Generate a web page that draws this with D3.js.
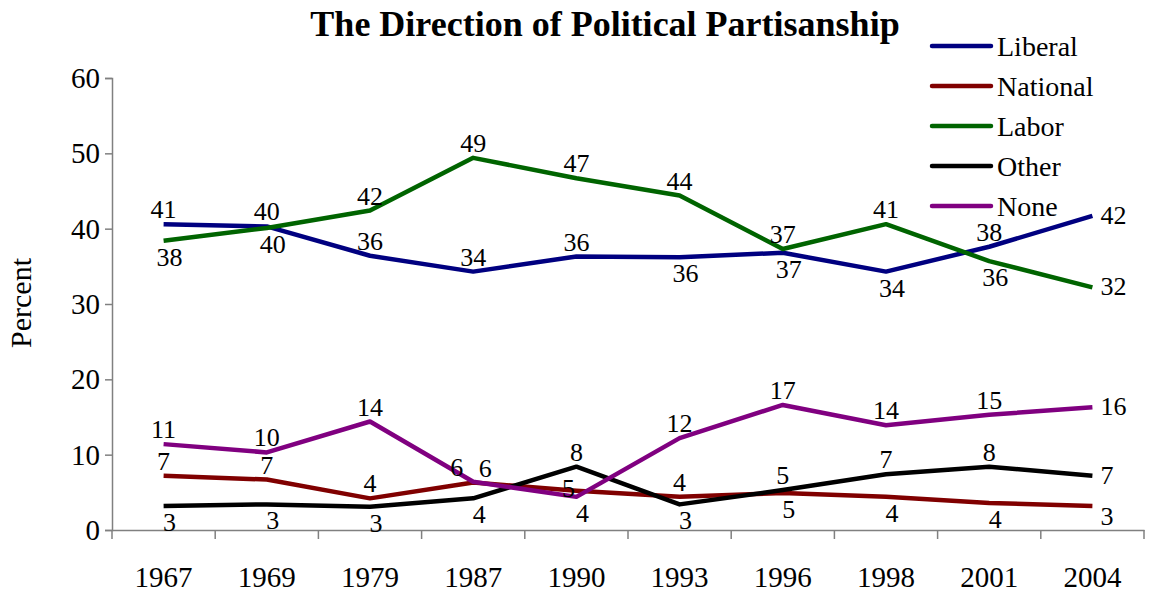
<!DOCTYPE html>
<html><head><meta charset="utf-8">
<script src="https://cdn.jsdelivr.net/npm/d3@7"></script>
<style>body{margin:0;background:#fff}svg{display:block}text{font-family:"Liberation Serif","Times New Roman",serif;fill:#000}</style>
</head><body><svg id="c" width="1149" height="596"></svg>
<script>
const years = ["1967","1969","1979","1987","1990","1993","1996","1998","2001","2004"];
const liberal  = [40.6,40.3,36.4,34.3,36.3,36.2,36.8,34.3,37.6,41.7];
const national = [7.2,6.7,4.2,6.3,5.2,4.4,4.9,4.4,3.6,3.2];
const labor    = [38.4,40.1,42.4,49.4,46.7,44.4,37.3,40.6,35.7,32.2];
const other    = [3.2,3.4,3.1,4.2,8.4,3.4,5.3,7.4,8.4,7.2];
const none     = [11.4,10.3,14.4,6.4,4.4,12.2,16.6,13.9,15.3,16.3];
const yTicks = [0,10,20,30,40,50,60];
const seriesNames = ["Liberal","National","Labor","Other","None"];
// label placement (a=above, b=below, r=right, l=left-above, ar=above-right, m=on line, left)
const placeLiberal  = ["a","a","a","a","a","b","b","b","a","r"];
const placeNational = ["a","a","a","ar","m","a","b","b","b","rb"];
const placeLabor    = ["b","b","a","a","a","a","a","a","b","r"];
const placeOther    = ["b","b","b","b","a","b","a","a","a","r"];
const placeNone     = ["a","a","a","l","b","a","a","a","a","r"];

const colors = ["#000080","#800000","#006400","#000000","#800080"];
const valuesList = [liberal,national,labor,other,none];
const placeList = [placeLiberal,placeNational,placeLabor,placeOther,placeNone];
const series = seriesNames.map((n,i)=>({name:n, values:valuesList[i], color:colors[i], place:placeList[i]}));

const svg = d3.select("#c");
const x = d3.scaleBand().domain(years).range([112,1144]).padding(0);
const y = d3.scaleLinear().domain([0,60]).range([530,78]);
const cx = d => x(d) + x.bandwidth()/2;

svg.append("text").attr("x",605).attr("y",36).attr("text-anchor","middle")
  .style("font-size","36px").style("font-weight","bold").text("The Direction of Political Partisanship");

// Y axis
const ya = svg.append("g").attr("transform","translate(112,0)")
  .call(d3.axisLeft(y).tickValues(yTicks).tickSize(7).tickPadding(5));
ya.attr("font-family",null);
ya.select(".domain").attr("stroke","#808080").attr("stroke-width",1.5);
ya.selectAll(".tick line").attr("stroke","#808080").attr("stroke-width",1.5);
ya.selectAll(".tick text").style("font-size","29px").attr("dy","0.33em");

// X axis
const xa = svg.append("g").attr("transform","translate(0,530)")
  .call(d3.axisBottom(x).tickSize(0).tickPadding(40));
xa.attr("font-family",null);
xa.select(".domain").attr("stroke","#808080").attr("stroke-width",1.5);
xa.selectAll(".tick text").style("font-size","29px").attr("dy","0.6em");
const bounds = years.map(d=>x(d)).concat([x.range()[1]]);
svg.append("g").selectAll("line").data(bounds).join("line")
  .attr("x1",d=>d).attr("x2",d=>d).attr("y1",530).attr("y2",539)
  .attr("stroke","#808080").attr("stroke-width",1.5);

svg.append("text").attr("transform","translate(31,303) rotate(-90)").attr("text-anchor","middle")
  .style("font-size","30px").text("Percent");

// Lines
const line = d3.line().x((d,i)=>cx(years[i])).y(d=>y(d));
series.forEach(s=>{
  svg.append("path").datum(s.values).attr("d",line).attr("fill","none")
    .attr("stroke",s.color).attr("stroke-width",4.5).attr("stroke-linejoin","round");
});

// Labels
series.forEach(s=>{
  svg.append("g").selectAll("text").data(s.values).join("text")
    .attr("x",(d,i)=>{const p=s.place[i]; const b=cx(years[i]);
      if(p==="r"||p==="rb") return b+8; if(p==="l") return b-10; if(p==="b") return b+6;
      if(p==="ar") return b+12; if(p==="m") return b-8; return b;})
    .attr("y",(d,i)=>{const p=s.place[i]; const b=y(d);
      if(p==="a"||p==="l"||p==="ar") return b-6; if(p==="b") return b+25; if(p==="rb") return b+19;
      if(p==="m") return b+6; return b+8;})
    .attr("text-anchor",(d,i)=>{const p=s.place[i]; return (p==="r"||p==="rb")?"start":(p==="l"?"end":"middle");})
    .style("font-size","26px").text(d=>Math.round(d));
});

// Legend
const lg = svg.append("g").selectAll("g").data(series).join("g")
  .attr("transform",(d,i)=>`translate(0,${46+i*40})`);
lg.append("line").attr("x1",932).attr("x2",991).attr("y1",0).attr("y2",0)
  .attr("stroke",d=>d.color).attr("stroke-width",4.5).attr("stroke-linecap","round");
lg.append("text").attr("x",997).attr("y",10).style("font-size","28px").text(d=>d.name);
</script></body></html>
